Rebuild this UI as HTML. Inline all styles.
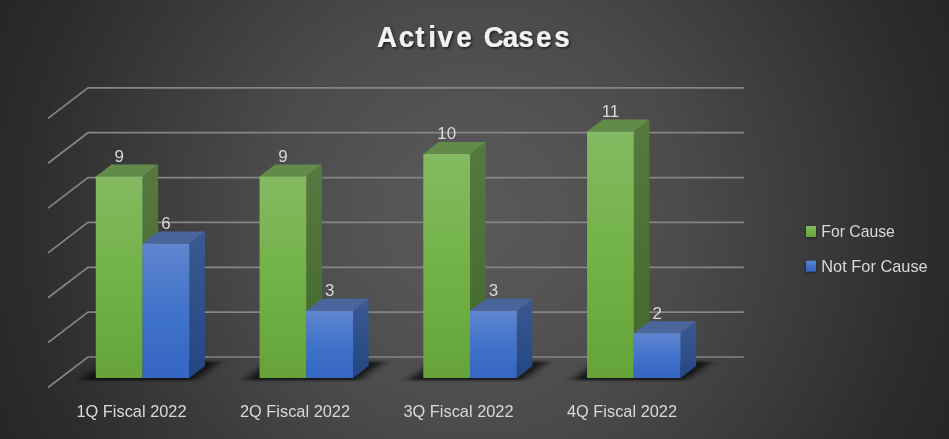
<!DOCTYPE html><html><head><meta charset="utf-8"><style>html,body{margin:0;padding:0;background:#262626;overflow:hidden}svg{display:block;will-change:transform}text{font-family:"Liberation Sans",Arial,sans-serif}</style></head><body>
<svg width="949" height="439" viewBox="0 0 949 439">
<defs>
<radialGradient id="bg" gradientUnits="userSpaceOnUse" cx="474.5" cy="219.5" r="523"><stop offset="0" stop-color="#595959"/><stop offset="0.16" stop-color="#555555"/><stop offset="0.4" stop-color="#4b4b4b"/><stop offset="0.87" stop-color="#2c2c2c"/><stop offset="1" stop-color="#262626"/></radialGradient>
<linearGradient id="gF" x1="0" y1="0" x2="0" y2="1"><stop offset="0" stop-color="#84ba62"/><stop offset="0.5" stop-color="#72b247"/><stop offset="1" stop-color="#66a439"/></linearGradient>
<linearGradient id="gS" x1="0" y1="0" x2="0" y2="1"><stop offset="0" stop-color="#57793f"/><stop offset="1" stop-color="#41672a"/></linearGradient>
<linearGradient id="bF" x1="0" y1="0" x2="0" y2="1"><stop offset="0" stop-color="#6086d0"/><stop offset="0.5" stop-color="#4073c9"/><stop offset="1" stop-color="#3466c3"/></linearGradient>
<linearGradient id="bS" x1="0" y1="0" x2="0" y2="1"><stop offset="0" stop-color="#3b5993"/><stop offset="1" stop-color="#234682"/></linearGradient>
<filter id="sh" x="-50%" y="-50%" width="200%" height="200%"><feGaussianBlur stdDeviation="5.5 1.3"/></filter>
<filter id="ts" x="-10%" y="-30%" width="120%" height="160%"><feDropShadow dx="1.5" dy="1.5" stdDeviation="1.2" flood-color="#000" flood-opacity="0.6"/></filter>
<filter id="ms" x="-50%" y="-50%" width="200%" height="200%"><feGaussianBlur stdDeviation="1"/></filter>
</defs>
<rect width="949" height="439" fill="url(#bg)"/>
<path d="M48 387.5L88 357H744M48 342.64L88 312.14H744M48 297.78L88 267.28H744M48 252.92L88 222.42H744M48 208.06L88 177.56H744M48 163.2L88 132.7H744M48 118.34L88 87.84H744" fill="none" stroke="#858585" stroke-width="1.7"/>
<path d="M80.8 380.3L194.3 380.3L220.3 361.5L106.8 361.5Z" fill="#000" opacity="0.72" filter="url(#sh)"/>
<path d="M244.55 380.3L358.05 380.3L384.05 361.5L270.55 361.5Z" fill="#000" opacity="0.72" filter="url(#sh)"/>
<path d="M408.3 380.3L521.8 380.3L547.8 361.5L434.3 361.5Z" fill="#000" opacity="0.72" filter="url(#sh)"/>
<path d="M572.05 380.3L685.55 380.3L711.55 361.5L598.05 361.5Z" fill="#000" opacity="0.72" filter="url(#sh)"/>
<path d="M142.55 176.4L158.15 164.4L158.15 366L142.55 378Z" fill="url(#gS)"/><path d="M95.8 176.4L111.4 164.4L158.15 164.4L142.55 176.4Z" fill="#628b4a"/><rect x="95.8" y="176.4" width="46.75" height="201.6" fill="url(#gF)"/>
<path d="M189.3 243.6L204.9 231.6L204.9 366L189.3 378Z" fill="url(#bS)"/><path d="M142.55 243.6L158.15 231.6L204.9 231.6L189.3 243.6Z" fill="#4a649c"/><rect x="142.55" y="243.6" width="46.75" height="134.4" fill="url(#bF)"/>
<path d="M306.3 176.4L321.9 164.4L321.9 366L306.3 378Z" fill="url(#gS)"/><path d="M259.55 176.4L275.15 164.4L321.9 164.4L306.3 176.4Z" fill="#628b4a"/><rect x="259.55" y="176.4" width="46.75" height="201.6" fill="url(#gF)"/>
<path d="M353.05 310.8L368.65 298.8L368.65 366L353.05 378Z" fill="url(#bS)"/><path d="M306.3 310.8L321.9 298.8L368.65 298.8L353.05 310.8Z" fill="#4a649c"/><rect x="306.3" y="310.8" width="46.75" height="67.2" fill="url(#bF)"/>
<path d="M470.05 154L485.65 142L485.65 366L470.05 378Z" fill="url(#gS)"/><path d="M423.3 154L438.9 142L485.65 142L470.05 154Z" fill="#628b4a"/><rect x="423.3" y="154" width="46.75" height="224" fill="url(#gF)"/>
<path d="M516.8 310.8L532.4 298.8L532.4 366L516.8 378Z" fill="url(#bS)"/><path d="M470.05 310.8L485.65 298.8L532.4 298.8L516.8 310.8Z" fill="#4a649c"/><rect x="470.05" y="310.8" width="46.75" height="67.2" fill="url(#bF)"/>
<path d="M633.8 131.6L649.4 119.6L649.4 366L633.8 378Z" fill="url(#gS)"/><path d="M587.05 131.6L602.65 119.6L649.4 119.6L633.8 131.6Z" fill="#628b4a"/><rect x="587.05" y="131.6" width="46.75" height="246.4" fill="url(#gF)"/>
<path d="M680.55 333.2L696.15 321.2L696.15 366L680.55 378Z" fill="url(#bS)"/><path d="M633.8 333.2L649.4 321.2L696.15 321.2L680.55 333.2Z" fill="#4a649c"/><rect x="633.8" y="333.2" width="46.75" height="44.8" fill="url(#bF)"/>
<text x="119.17" y="161.8" font-size="16.9" fill="#d9d9d9" text-anchor="middle">9</text>
<text x="165.93" y="229" font-size="16.9" fill="#d9d9d9" text-anchor="middle">6</text>
<text x="282.93" y="161.8" font-size="16.9" fill="#d9d9d9" text-anchor="middle">9</text>
<text x="329.68" y="296.2" font-size="16.9" fill="#d9d9d9" text-anchor="middle">3</text>
<text x="446.68" y="139.4" font-size="16.9" fill="#d9d9d9" text-anchor="middle">10</text>
<text x="493.43" y="296.2" font-size="16.9" fill="#d9d9d9" text-anchor="middle">3</text>
<text x="610.42" y="117" font-size="16.9" fill="#d9d9d9" text-anchor="middle">11</text>
<text x="657.17" y="318.6" font-size="16.9" fill="#d9d9d9" text-anchor="middle">2</text>
<text x="131.5" y="416.7" font-size="16.2" fill="#d9d9d9" text-anchor="middle" textLength="110.2" lengthAdjust="spacingAndGlyphs">1Q Fiscal 2022</text>
<text x="295" y="416.7" font-size="16.2" fill="#d9d9d9" text-anchor="middle" textLength="110.2" lengthAdjust="spacingAndGlyphs">2Q Fiscal 2022</text>
<text x="458.5" y="416.7" font-size="16.2" fill="#d9d9d9" text-anchor="middle" textLength="110.2" lengthAdjust="spacingAndGlyphs">3Q Fiscal 2022</text>
<text x="622" y="416.7" font-size="16.2" fill="#d9d9d9" text-anchor="middle" textLength="110.2" lengthAdjust="spacingAndGlyphs">4Q Fiscal 2022</text>
<rect x="806" y="227" width="10" height="11" fill="#000" opacity="0.5" filter="url(#ms)"/>
<rect x="806" y="261.7" width="10" height="11" fill="#000" opacity="0.5" filter="url(#ms)"/>
<rect x="806" y="226" width="10" height="11" fill="url(#gF)"/>
<rect x="806" y="260.7" width="10" height="11" fill="url(#bF)"/>
<text x="821.3" y="237" font-size="16.2" fill="#d9d9d9" textLength="73.6" lengthAdjust="spacingAndGlyphs">For Cause</text>
<text x="821.3" y="271.5" font-size="16.2" fill="#d9d9d9" textLength="106.4" lengthAdjust="spacingAndGlyphs">Not For Cause</text>
<g filter="url(#ts)"><text transform="scale(0.93,1)" x="405.49 428.81 446.61 460.53 470.35 490.58 513.98 520.18 540.72 557.18 576.28 596" y="46.9" font-size="29.8" font-weight="bold" fill="#f2f2f2" stroke="#f2f2f2" stroke-width="0.2">Active Cases</text></g>
</svg></body></html>
